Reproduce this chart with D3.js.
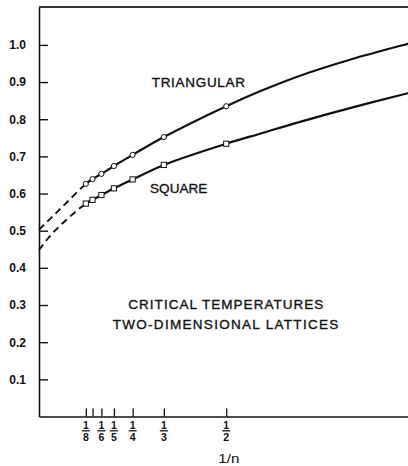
<!DOCTYPE html>
<html><head><meta charset="utf-8">
<script src="https://cdn.jsdelivr.net/npm/d3@7"></script>
<style>body{margin:0;background:#fff}svg{display:block}</style>
</head><body><svg id="c" width="408" height="466"></svg>
<script>
// ---- data ----
const nValues = [8, 7, 6, 5, 4, 3, 2];
const triangularT = [0.626, 0.639, 0.653, 0.674, 0.704, 0.752, 0.835];
const squareT     = [0.573, 0.583, 0.596, 0.614, 0.638, 0.677, 0.734];
// smooth continuation of the curves beyond n = 2
const extendX           = [0.590, 0.697, 0.830, 0.985, 1.0];
const triangularExtendT = [0.875, 0.917, 0.960, 1.003, 1.007];
const squareExtendT     = [0.761, 0.793, 0.830, 0.870, 0.874];
// dashed extrapolation to 1/n = 0
const triangularExtrapX = [0, 0.037, 0.076];
const triangularExtrapT = [0.503, 0.539, 0.578];
const squareExtrapX     = [0, 0.028, 0.063];
const squareExtrapT     = [0.448, 0.484, 0.520];
const yTicks = [0.1, 0.2, 0.3, 0.4, 0.5, 0.6, 0.7, 0.8, 0.9, 1.0];
const xTickDenoms = [8, 7, 6, 5, 4, 3, 2];
const xLabelDenoms = [8, 6, 5, 4, 3, 2];
const xAxisTitle = "1/n";
const labels = {
  tri: "TRIANGULAR", sq: "SQUARE",
  t1: "CRITICAL TEMPERATURES", t2: "TWO-DIMENSIONAL LATTICES"
};

// ---- scales ----
const svg = d3.select("#c");
const x = d3.scaleLinear().domain([0, 1]).range([39, 413.5]);
const yMax = 1.102;
const y = d3.scaleLinear().domain([0, yMax]).range([416.5, 7]);
const font = "'Liberation Sans', Arial, Helvetica, sans-serif";
const ink = "#111";

// ---- frame / axes ----
const gy = svg.append("g").attr("transform", `translate(${x(0)},0)`)
  .call(d3.axisLeft(y).tickValues(yTicks).tickSize(-9).tickSizeOuter(0)
    .tickFormat(d3.format(".1f")).tickPadding(13));
gy.select(".domain").attr("stroke", ink).attr("stroke-width", 1.6);
gy.selectAll(".tick line").attr("stroke", ink).attr("stroke-width", 1.4);
gy.selectAll(".tick text").attr("font-family", font).attr("font-size", 12)
  .attr("font-weight", "bold").attr("fill", ink);

const gx = svg.append("g").attr("transform", `translate(0,${y(0)})`)
  .call(d3.axisBottom(x).tickValues(xTickDenoms.map(n => 1 / n))
    .tickSize(-8).tickSizeOuter(0).tickFormat(""));
gx.select(".domain").attr("stroke", ink).attr("stroke-width", 1.6);
gx.selectAll(".tick line").attr("stroke", ink).attr("stroke-width", 1.3);

// top border
svg.append("line").attr("x1", x(0)).attr("x2", x(1)).attr("y1", y(yMax)).attr("y2", y(yMax))
  .attr("stroke", "#333").attr("stroke-width", 1.8);

// fraction tick labels
const fr = svg.append("g").selectAll("g").data(xLabelDenoms).join("g")
  .attr("transform", d => `translate(${x(1 / d)},${y(0)})`);
fr.append("text").text("1").attr("y", 12).attr("text-anchor", "middle")
  .attr("font-family", font).attr("font-size", 10.5).attr("font-weight", "bold").attr("fill", ink);
fr.append("line").attr("x1", -4).attr("x2", 4).attr("y1", 14.3).attr("y2", 14.3)
  .attr("stroke", ink).attr("stroke-width", 1.3);
fr.append("text").text(d => d).attr("y", 24).attr("text-anchor", "middle")
  .attr("font-family", font).attr("font-size", 10.5).attr("font-weight", "bold").attr("fill", ink);

svg.append("text").text(xAxisTitle).attr("x", 218.3).attr("y", 463)
  .attr("textLength", 21).attr("lengthAdjust", "spacingAndGlyphs")
  .attr("font-family", font).attr("font-size", 12).attr("fill", ink);

// ---- curves ----
const line = d3.line().x(d => x(d[0])).y(d => y(d[1])).curve(d3.curveCatmullRom.alpha(0.5));
const defs = svg.append("defs");
const split = x(1 / nValues[0]);
defs.append("clipPath").attr("id", "left").append("rect")
  .attr("x", 0).attr("y", 0).attr("width", split).attr("height", 466);
defs.append("clipPath").attr("id", "right").append("rect")
  .attr("x", split).attr("y", 0).attr("width", 408 - split).attr("height", 466);

function series(T, extT, exX, exT, marker) {
  const pts = nValues.map((n, i) => [1 / n, T[i]]);
  const all = exX.map((v, i) => [v, exT[i]])
    .concat(pts)
    .concat(extendX.map((v, i) => [v, extT[i]]));
  svg.append("path").attr("d", line(all)).attr("fill", "none").attr("clip-path", "url(#right)")
    .attr("stroke", ink).attr("stroke-width", 2.2);
  svg.append("path").attr("d", line(all)).attr("fill", "none").attr("clip-path", "url(#left)")
    .attr("stroke", ink).attr("stroke-width", 1.9).attr("stroke-dasharray", "7,4.5");
  const g = svg.append("g");
  if (marker === "circle") {
    g.selectAll("circle").data(pts).join("circle")
      .attr("cx", d => x(d[0])).attr("cy", d => y(d[1])).attr("r", 2.6)
      .attr("fill", "#fff").attr("stroke", ink).attr("stroke-width", 1);
  } else {
    g.selectAll("rect").data(pts).join("rect")
      .attr("x", d => x(d[0]) - 2.6).attr("y", d => y(d[1]) - 2.6)
      .attr("width", 5.2).attr("height", 5.2)
      .attr("fill", "#fff").attr("stroke", ink).attr("stroke-width", 1);
  }
}
series(triangularT, triangularExtendT, triangularExtrapX, triangularExtrapT, "circle");
series(squareT, squareExtendT, squareExtrapX, squareExtrapT, "square");

// ---- annotations ----
function label(t, x0, yb, len) {
  svg.append("text").text(t).attr("x", x0).attr("y", yb)
    .attr("textLength", len).attr("lengthAdjust", "spacing")
    .attr("font-family", font).attr("font-size", 13.5).attr("fill", ink)
    .attr("stroke", ink).attr("stroke-width", 0.35);
}
label(labels.tri, 151.7, 86.7, 93.3);
label(labels.sq, 150, 193.3, 57.3);
label(labels.t1, 128.3, 309, 195);
label(labels.t2, 112.7, 329, 225.6);
</script></body></html>
